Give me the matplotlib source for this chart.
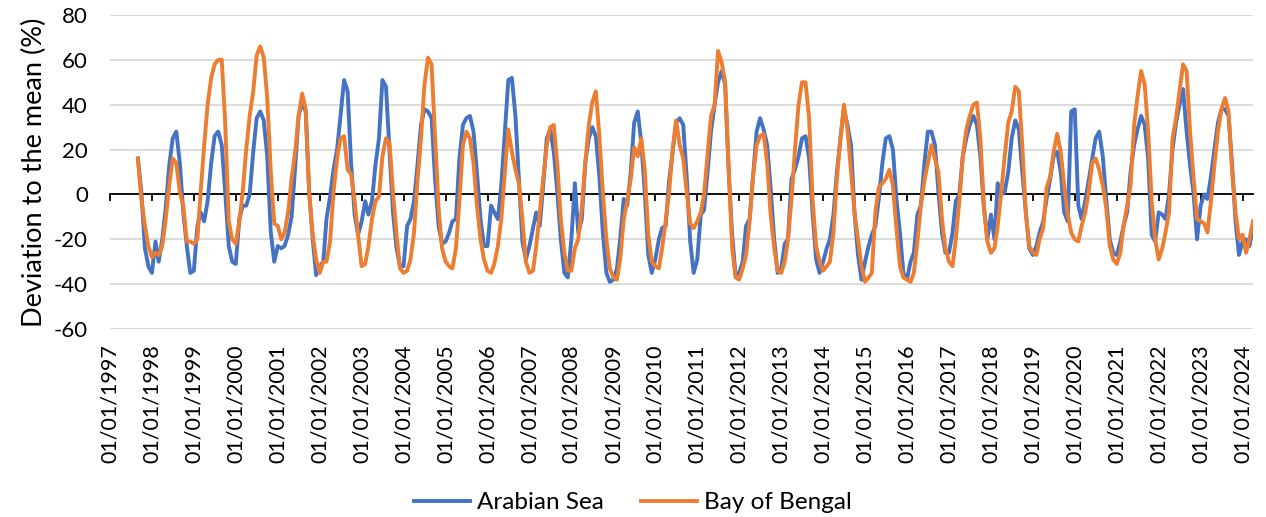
import numpy as np
import pandas as pd
import matplotlib
matplotlib.use('Agg')
import matplotlib.pyplot as plt
import matplotlib.dates as mdates

# Dados mensais (desvio em relação à média, %), de 09/1997 a 04/2024
inicio = '1997-09-01'

arabian_sea = [
    16, 1, -24, -32, -35, -21, -30, -20, -6, 13,
    25, 28, 14, -8, -23, -35, -34, -14, -8, -12,
    -3, 14, 26, 28, 22, 1, -23, -30, -31, -11,
    -5, -5, 0, 19, 34, 37, 33, 17, -17, -30,
    -23, -24, -23, -18, -10, 12, 35, 41, 37, 1,
    -20, -36, -32, -30, -11, -1, 11, 20, 35, 51,
    46, 14, -9, -18, -12, -3, -9, -3, 13, 25,
    51, 48, 19, -8, -24, -32, -32, -14, -11, -3,
    13, 31, 38, 37, 34, 7, -14, -22, -21, -17,
    -12, -11, 16, 31, 34, 35, 28, 10, -11, -23,
    -23, -5, -8, -11, 4, 28, 51, 52, 35, 7,
    -21, -29, -23, -15, -8, -14, 4, 25, 29, 19,
    1, -20, -35, -37, -20, 5, -17, -11, 14, 25,
    30, 26, 8, -17, -35, -39, -38, -33, -20, -2,
    -5, 10, 32, 37, 23, 1, -27, -35, -29, -20,
    -15, -14, 6, 19, 32, 34, 31, 8, -21, -35,
    -29, -9, -7, 10, 28, 40, 50, 55, 49, 11,
    -18, -36, -35, -30, -14, -11, 8, 28, 34, 29,
    22, 3, -20, -35, -33, -22, -20, 7, 11, 17,
    25, 26, 16, -8, -29, -35, -30, -24, -20, -9,
    10, 25, 38, 31, 22, -8, -27, -38, -30, -23,
    -18, -14, -2, 14, 25, 26, 20, -2, -17, -35,
    -38, -30, -26, -9, -5, 14, 28, 28, 22, 1,
    -17, -26, -26, -17, -3, 0, 17, 25, 31, 35,
    31, 17, -6, -20, -9, -20, 5, 0, 1, 10,
    25, 33, 29, 10, -8, -24, -27, -23, -17, -12,
    -2, 7, 17, 19, 10, -8, -12, 37, 38, -5,
    -11, -3, 6, 16, 25, 28, 17, -2, -20, -26,
    -27, -21, -14, -8, 10, 22, 29, 35, 31, 16,
    -18, -21, -8, -9, -11, 0, 20, 32, 40, 47,
    28, 13, 0, -20, -5, 0, -2, 8, 20, 32,
    38, 38, 35, 14, -12, -27, -21, -20, -23, -15,
]

bay_of_bengal = [
    16, -2, -14, -23, -28, -26, -27, -23, -11, 4,
    16, 14, 1, -5, -21, -21, -22, -20, 1, 22,
    40, 52, 58, 60, 60, 32, -12, -20, -22, -12,
    1, 20, 35, 46, 62, 66, 61, 43, 10, -13,
    -14, -20, -17, -8, 7, 19, 35, 45, 38, 1,
    -18, -29, -35, -30, -30, -21, 1, 16, 25, 26,
    11, 9, -3, -18, -32, -31, -23, -11, -3, -1,
    17, 25, 23, 1, -18, -33, -35, -34, -29, -17,
    6, 25, 49, 61, 58, 26, -6, -24, -30, -32,
    -33, -24, -3, 22, 28, 25, 14, -5, -20, -29,
    -34, -35, -31, -23, -11, 10, 29, 19, 11, 5,
    -11, -30, -35, -34, -23, -8, 7, 22, 30, 31,
    13, -11, -26, -34, -34, -24, -20, -6, 14, 31,
    41, 46, 26, 1, -20, -33, -37, -38, -29, -11,
    -3, 7, 21, 17, 25, 11, -18, -30, -32, -33,
    -24, -12, 1, 20, 33, 22, 16, 1, -13, -15,
    -12, -8, 0, 18, 35, 40, 64, 59, 50, 13,
    -24, -37, -38, -33, -27, -12, 8, 22, 26, 27,
    14, -9, -24, -34, -35, -30, -20, -2, 20, 40,
    50, 50, 34, -2, -23, -30, -34, -32, -30, -17,
    7, 25, 40, 29, 10, -8, -20, -32, -39, -37,
    -35, -8, 3, 5, 7, 11, 4, -15, -32, -37,
    -38, -39, -35, -21, -5, 6, 14, 22, 16, 10,
    -11, -24, -30, -32, -20, -3, 17, 29, 35, 40,
    41, 25, -5, -21, -26, -24, -14, 1, 17, 32,
    37, 48, 46, 22, -8, -23, -26, -27, -20, -15,
    3, 8, 19, 27, 19, 4, -9, -17, -20, -21,
    -14, -8, 1, 14, 16, 11, 4, -6, -23, -29,
    -31, -26, -14, -5, 4, 31, 44, 55, 49, 28,
    -3, -20, -29, -24, -17, -8, 25, 34, 46, 58,
    55, 28, 7, -11, -12, -13, -17, -3, 13, 28,
    38, 43, 37, 11, -8, -20, -18, -26, -20, -12,
]

y_ticks = [-60, -40, -20, 0, 20, 40, 60, 80]
anos = pd.date_range('1997-01-01', '2024-01-01', freq='YS')	# marcas anuais do eixo x

datas = pd.date_range(inicio, periods=len(arabian_sea), freq='MS')

plt.rcParams['font.family'] = ['Lato', 'DejaVu Sans']
plt.rcParams['axes.unicode_minus'] = False	# Excel usa hífen simples

W, H = 1266, 517
fig = plt.figure(figsize=(W/100, H/100), dpi=100)
ax = fig.add_axes([110/W, 1-329/H, (1253-110)/W, (329-15)/H])

ax.plot(datas, arabian_sea, color='#4472C4', lw=2.8, label='Arabian Sea')
ax.plot(datas, bay_of_bengal, color='#ED7D31', lw=2.8, label='Bay of Bengal')

ax.set_ylim(-60, 80)
ax.set_yticks(y_ticks)
ax.set_xlim(pd.Timestamp('1997-01-01'), datas[-1])
ax.yaxis.grid(True, color='#D9D9D9', lw=1.3)
ax.set_axisbelow(True)
for s in ['left', 'right', 'top']:
    ax.spines[s].set_visible(False)

# eixo horizontal cruza em zero, rótulos ficam embaixo
ax.spines['bottom'].set_position(('data', 0))
ax.spines['bottom'].set_color('black')
ax.spines['bottom'].set_linewidth(1.3)
ax.spines['bottom'].set_zorder(1.5)
ax.set_xticks(anos)
ax.tick_params(axis='x', direction='out', length=5, width=1.3, labelbottom=False)
ax.tick_params(axis='y', length=0, labelsize=16, pad=16)

sec = ax.secondary_xaxis('bottom')
sec.set_xticks(mdates.date2num(anos), labels=[a.strftime('%d/%m/%Y') for a in anos])
sec.tick_params(length=0, labelsize=15.5, pad=11, labelrotation=90)
sec.spines['bottom'].set_visible(False)

ax.set_ylabel('Deviation to the mean (%)', fontsize=19.5, labelpad=5)

fig.legend(loc='lower center', ncol=2, frameon=False, bbox_to_anchor=(0.5, -0.035),
           fontsize=17.5, handlelength=2.3, handletextpad=0.3, columnspacing=1.5)

fig.savefig('out.png', dpi=100)
